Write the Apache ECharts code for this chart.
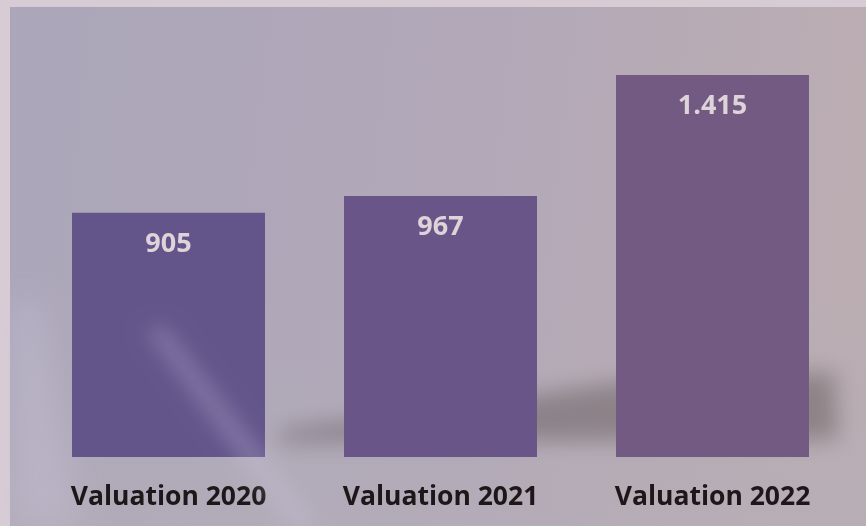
<!DOCTYPE html>
<html>
<head>
<meta charset="utf-8">
<style>
html,body{margin:0;padding:0;background:#d6ccd4;}
#chart{width:866px;height:526px;}
</style>
<script src="https://cdn.jsdelivr.net/npm/echarts@6/dist/echarts.min.js"></script>
</head>
<body>
<div id="chart"></div>
<script>
// ---- data ----
const categories = ['Valuation 2020', 'Valuation 2021', 'Valuation 2022'];
const valuations = [905, 967, 1415];

// ---- styles ----
const barColors = ['#63548a', '#6a5588', '#725a83'];

function fmt(v) {
  return String(v).replace(/\B(?=(\d{3})+(?!\d))/g, '.');
}

const OFF = 2000;
function shifted(points) {
  return points.map(function (p) { return [p[0], p[1] - OFF]; });
}

const chart = echarts.init(document.getElementById('chart'), null, {renderer: 'canvas'});
chart.setOption({
  backgroundColor: '#d8ccd4',
  animation: false,
  graphic: [
    {
      type: 'rect', z: -10, silent: true,
      shape: {x: 10, y: 7, width: 856, height: 519},
      style: {
        fill: new echarts.graphic.LinearGradient(0, 0, 1, 0.2, [
          {offset: 0, color: '#aba6ba'},
          {offset: 0.55, color: '#b2a8b8'},
          {offset: 1, color: '#bbadb2'}
        ])
      }
    },
    {
      type: 'rect', z: -9, silent: true,
      shape: {x: 10, y: 280, width: 856, height: 246},
      style: {
        fill: new echarts.graphic.LinearGradient(0, 0, 0, 1, [
          {offset: 0, color: 'rgba(178,174,182,0)'},
          {offset: 1, color: 'rgba(180,174,184,0.55)'}
        ])
      }
    },
    {
      // soft floor shadow behind bars (only the blurred shadow is visible)
      type: 'polygon', z: -8, silent: true,
      shape: {points: shifted([[280, 430], [470, 404], [620, 382], [835, 372], [838, 440], [280, 442]])},
      style: {fill: '#000', shadowBlur: 22, shadowOffsetY: OFF, shadowColor: 'rgba(105,96,98,0.55)'}
    },
    {
      // faint light streak on the lower left
      type: 'polygon', z: 5, silent: true,
      shape: {points: shifted([[145, 330], [165, 326], [320, 526], [290, 526]])},
      style: {fill: '#000', shadowBlur: 20, shadowOffsetY: OFF, shadowColor: 'rgba(205,200,228,0.28)'}
    },
    {
      type: 'polygon', z: -7, silent: true,
      shape: {points: shifted([[10, 300], [40, 300], [80, 526], [10, 526]])},
      style: {fill: '#000', shadowBlur: 30, shadowOffsetY: OFF, shadowColor: 'rgba(200,196,218,0.35)'}
    }
  ],
  grid: {left: 32.5, right: 17.5, top: 25, bottom: 69, containLabel: false, outerBoundsMode: 'none'},
  xAxis: {
    type: 'category',
    data: categories,
    axisLine: {show: false},
    axisTick: {show: false},
    splitLine: {show: false},
    axisLabel: {
      margin: 27,
      fontFamily: 'Open Sans',
      fontWeight: 'bold',
      fontSize: 26.5,
      color: '#1e1719'
    }
  },
  yAxis: {
    type: 'value',
    min: 0,
    max: 1600,
    show: false,
    splitLine: {show: false}
  },
  series: [{
    type: 'bar',
    data: valuations,
    barWidth: 193,
    itemStyle: {
      color: function (p) { return barColors[p.dataIndex]; }
    },
    label: {
      show: true,
      position: 'insideTop',
      distance: 18,
      fontFamily: 'Open Sans',
      fontWeight: 'bold',
      fontSize: 27,
      color: '#ddd3d8',
      formatter: function (p) { return fmt(p.value); }
    }
  }]
});
</script>
</body>
</html>
